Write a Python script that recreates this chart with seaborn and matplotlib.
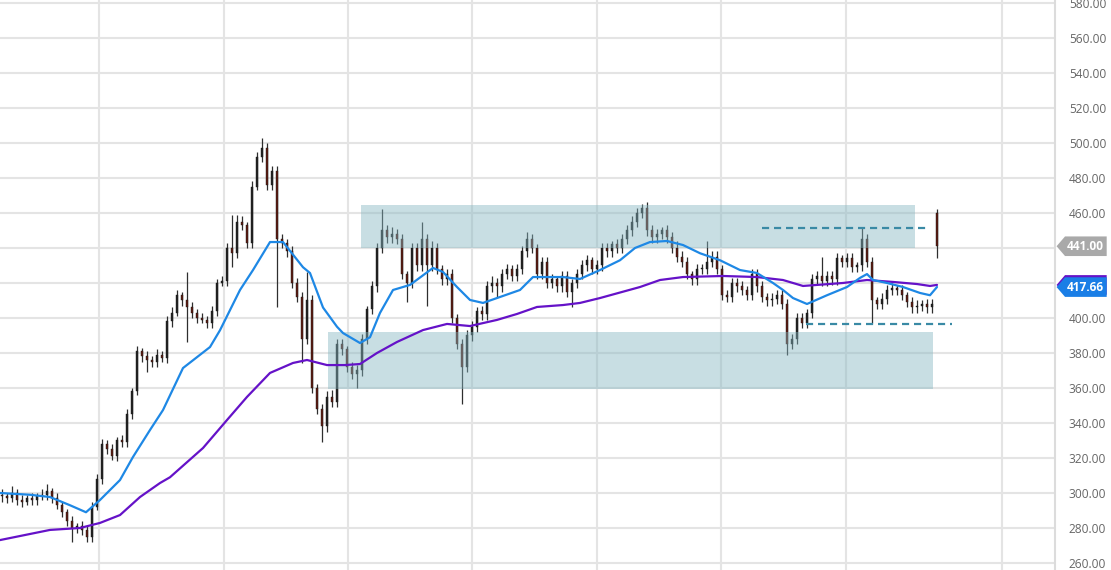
import numpy as np
import matplotlib
matplotlib.use("Agg")
import matplotlib.pyplot as plt
from matplotlib.patches import Polygon, Rectangle
from matplotlib.transforms import blended_transform_factory
import seaborn as sns

sns.set_theme(style="white")
plt.rcParams['font.family'] = ['Open Sans', 'DejaVu Sans']

# candle closes, one per bar
closes = [
    298, 297, 300, 296, 295, 297, 296, 298, 299, 301,
    297, 293, 289, 284, 280, 281, 279, 275, 292, 308,
    328, 325, 321, 330, 329, 345, 358, 381, 378, 376,
    375, 379, 377, 398, 403, 413, 410, 406, 403, 400,
    399, 397, 404, 420, 421, 440, 437, 455, 453, 443,
    475, 492, 497, 476, 484, 445, 443, 438, 420, 412,
    388, 410, 360, 348, 338, 355, 352, 385, 382, 372,
    368, 370, 388, 405, 418, 440, 450, 446, 448, 445,
    425, 420, 440, 430, 445, 430, 440, 428, 422, 425,
    400, 385, 372, 390, 395, 404, 402, 418, 420, 418,
    425, 428, 424, 428, 438, 445, 440, 425, 432, 420,
    422, 418, 424, 415, 420, 425, 430, 433, 428, 430,
    440, 438, 442, 440, 445, 450, 455, 460, 463, 450,
    446, 448, 450, 446, 440, 435, 432, 425, 422, 428,
    428, 432, 435, 428, 413, 412, 420, 418, 416, 413,
    425, 418, 412, 410, 411, 413, 408, 385, 388, 400,
    397, 403, 422, 424, 421, 424, 422, 434, 432, 434,
    429, 430, 445, 432, 410, 408, 411, 416, 417, 416,
    413, 409, 406, 407, 408, 406, 408, 441,
]
first_open = 299
gap_opens = {187: 460}

wick_up = [
    3, 2, 4, 2, 3, 2, 3, 2, 3, 4, 2, 3, 2, 2, 3, 2, 3, 2, 3, 3,
    3, 2, 3, 2, 3, 3, 2, 3, 2, 3, 2, 3, 2, 3, 3, 3, 2, 16, 3, 2,
    3, 2, 3, 2, 3, 3, 19, 4, 3, 2, 3, 3, 6, 3, 3, 3, 3, 2, 3, 3,
    3, 16, 3, 2, 3, 3, 4, 3, 3, 2, 3, 3, 3, 2, 3, 3, 12, 3, 4, 3,
    3, 2, 3, 3, 10, 3, 4, 3, 2, 3, 3, 2, 3, 3, 3, 2, 3, 3, 4, 3,
    3, 3, 2, 3, 3, 4, 3, 2, 3, 3, 3, 2, 3, 3, 2, 3, 3, 3, 2, 3,
    3, 3, 2, 3, 3, 3, 3, 3, 2, 3, 3, 3, 2, 3, 3, 4, 3, 3, 2, 3,
    3, 12, 3, 3, 2, 3, 3, 3, 3, 2, 3, 3, 3, 2, 3, 3, 3, 3, 3, 3,
    3, 2, 3, 3, 11, 3, 3, 3, 2, 3, 3, 2, 7, 3, 3, 2, 3, 3, 3, 2,
    3, 2, 3, 3, 2, 3, 3, 2,
]
wick_dn = [
    3, 3, 2, 3, 3, 2, 3, 3, 2, 3, 3, 2, 3, 3, 8, 3, 3, 3, 3, 2,
    3, 3, 2, 3, 3, 3, 3, 2, 3, 7, 3, 3, 2, 3, 3, 2, 3, 20, 3, 3,
    2, 3, 3, 3, 2, 3, 8, 3, 3, 3, 3, 2, 3, 3, 3, 39, 3, 3, 3, 3,
    14, 3, 3, 3, 9, 3, 3, 3, 3, 3, 3, 8, 3, 3, 3, 3, 3, 3, 3, 3,
    3, 11, 3, 3, 3, 23, 3, 3, 3, 3, 3, 3, 21, 3, 3, 3, 3, 3, 3, 6,
    3, 3, 3, 3, 3, 3, 3, 3, 3, 3, 3, 3, 3, 3, 9, 3, 3, 3, 3, 3,
    3, 3, 3, 3, 3, 3, 3, 3, 3, 3, 3, 3, 3, 3, 3, 3, 3, 3, 3, 3,
    3, 3, 3, 3, 3, 3, 3, 3, 3, 3, 3, 3, 3, 3, 3, 3, 3, 6, 3, 3,
    3, 3, 3, 3, 3, 3, 3, 3, 3, 3, 3, 3, 3, 3, 13, 3, 3, 3, 3, 3,
    3, 3, 3, 3, 3, 3, 3, 7,
]

# moving averages (bar index, price)
fast_pos = [-0.4, 5.6, 9.6, 13.6, 16.8, 19.6, 23.6, 26.2, 29.6, 32.2, 36.2, 41.6,
            43.6, 47.6, 50.2, 53.6, 56.2, 60.2, 61.6, 64.2, 67, 68.2, 71.6, 73.6,
            75.6, 78.2, 81.6, 86.2, 88.2, 91, 93.6, 96.2, 99.6, 103.6, 106.2, 109.6,
            112.2, 115.6, 119.6, 123.6, 126.6, 129.6, 133, 136.2, 139.6, 143.6, 147.6,
            151, 154.2, 156.2, 158.2, 161, 165, 169, 171.6, 173, 174.2, 177, 180.2,
            183.6, 185.6, 187]
fast_vals = [300, 299, 297.7, 293, 289, 296, 307.4, 320.6, 336, 347.4, 371.4, 383.4,
             393, 416, 427.4, 443.4, 443.4, 429, 425.7, 406, 395, 391.4, 385.7, 389,
             402.9, 416, 418.9, 428.6, 426.3, 417.7, 410.3, 408.6, 412, 416, 423.4, 423.4,
             423.4, 422.3, 427.4, 433, 440, 443.4, 444, 441.7, 437, 433, 427.4,
             425.7, 420, 416, 411.4, 408, 413, 417.7, 422.9, 425.1, 421.7, 420, 417.7,
             414.3, 413, 417.7]
slow_pos = [-0.4, 9.6, 15.6, 19.6, 23.6, 27.6, 31.6, 33.6, 40.2, 45, 49, 53.6, 58.2,
            61, 65, 68.6, 71.6, 75, 79, 84.2, 89, 93.6, 99, 103, 107, 112.2, 115.6,
            119.6, 127.6, 131.6, 136.2, 144.2, 151, 156.2, 160.2, 168.2, 173, 178.2,
            183, 185.6, 187]
slow_vals = [273.1, 278.9, 280, 282.9, 287.4, 297.7, 305.7, 309, 325.7, 341.7, 354.9,
             368.6, 374.3, 376, 373.1, 373.1, 373.7, 380, 386.3, 393.1, 396.6, 395.4,
             398.9, 402.3, 406.3, 407.4, 408.6, 411.4, 417.7, 421.7, 423.4, 424, 423.4,
             421.7, 418.3, 420, 421.7, 420.6, 419.4, 418.3, 418.9]

# zones and levels drawn on the chart
zone_upper = (71.8, 182.6, 440.0, 464.6)
zone_lower = (65.2, 186.2, 359.4, 392.0)
level_upper = (152, 185.2, 451.4)
level_lower = (160.8, 190, 396.6)

# price tags on the axis
last_price = 441.00
fast_last = 417.66
slow_last = 418.9

yticks = list(range(260, 581, 20))
hidden_ticks = [420, 440]   # covered by the price tags
vgrid = [19.4, 44.4, 69.2, 94, 119, 143.8, 168.8, 200]

up_col = '#222222'
down_col = '#5e1a10'
wick_col = '#2e2e2e'
fast_col = '#1e88e5'
slow_col = '#6512c8'
zone_col = '#85b6c1'
level_col = '#3a8aa5'

fig = plt.figure(figsize=(11.11, 5.70), dpi=100)
ax = fig.add_axes([0, 0, 1055 / 1111, 1])

n = len(closes)
idx = np.arange(n)
c = np.array(closes, dtype=float)
o = np.array([first_open] + closes[:-1], dtype=float)
for k, v in gap_opens.items():
    o[k] = v
top = np.maximum(o, c) + np.array(wick_up)
bot = np.minimum(o, c) - np.array(wick_dn)

ax.vlines(idx, bot, top, color=wick_col, lw=0.9, zorder=2)
body_h = np.maximum(np.abs(c - o), 0.8)
colors = [up_col if cc >= oo else down_col for oo, cc in zip(o, c)]
ax.bar(idx, body_h, bottom=np.minimum(o, c), width=0.5, color=colors,
       edgecolor='#1a1a1a', linewidth=0.3, zorder=2.2)

for x0, x1, y0, y1 in (zone_upper, zone_lower):
    ax.add_patch(Rectangle((x0, y0), x1 - x0, y1 - y0, facecolor=zone_col,
                           alpha=0.45, edgecolor='none', zorder=3))

for x0, x1, yv in (level_upper, level_lower):
    ax.plot([x0, x1], [yv, yv], color=level_col, lw=1.6, ls=(0, (3.2, 2.2)), zorder=4)

sns.lineplot(x=slow_pos, y=slow_vals, ax=ax, color=slow_col, lw=1.6, sort=False, zorder=5)
sns.lineplot(x=fast_pos, y=fast_vals, ax=ax, color=fast_col, lw=1.6, sort=False, zorder=6)

ax.set_xlim(-0.4, 210.6)
ax.set_ylim(256.0, 581.7)
ax.set_yticks(yticks)
ax.set_yticklabels(["" if v in hidden_ticks else f"{v:.2f}" for v in yticks])
ax.set_xticks(vgrid)
ax.set_xticklabels([])
ax.yaxis.tick_right()
ax.tick_params(axis='y', length=0, pad=10, labelsize=8.6, labelcolor='#666666')
ax.tick_params(axis='x', length=0)
ax.grid(True, color='#e4e4e4', lw=1.5, zorder=0)
ax.set_axisbelow(True)
for s in ['left', 'top', 'bottom']:
    ax.spines[s].set_visible(False)
ax.spines['right'].set_color('#dcdcdc')
ax.spines['right'].set_linewidth(1.5)
ax.set_xlabel('')
ax.set_ylabel('')

# price tags on the right axis
tr = blended_transform_factory(ax.transAxes, ax.transData)
h = 5.6
def tag(yv, col, label=None):
    pts = [(1.0015, yv), (1.0095, yv + h), (1.049, yv + h), (1.049, yv - h), (1.0095, yv - h)]
    ax.add_patch(Polygon(pts, closed=True, facecolor=col, edgecolor='none',
                         transform=tr, clip_on=False, zorder=10))
    if label:
        ax.text(1.029, yv, label, transform=tr, ha='center', va='center', color='white',
                fontsize=8.6, fontweight='bold', clip_on=False, zorder=11)

tag(last_price, '#a9a9a9', f"{last_price:.2f}")
tag(slow_last, slow_col)
tag(fast_last, '#1a7ee6', f"{fast_last:.2f}")

fig.savefig("out.png", dpi=100)
